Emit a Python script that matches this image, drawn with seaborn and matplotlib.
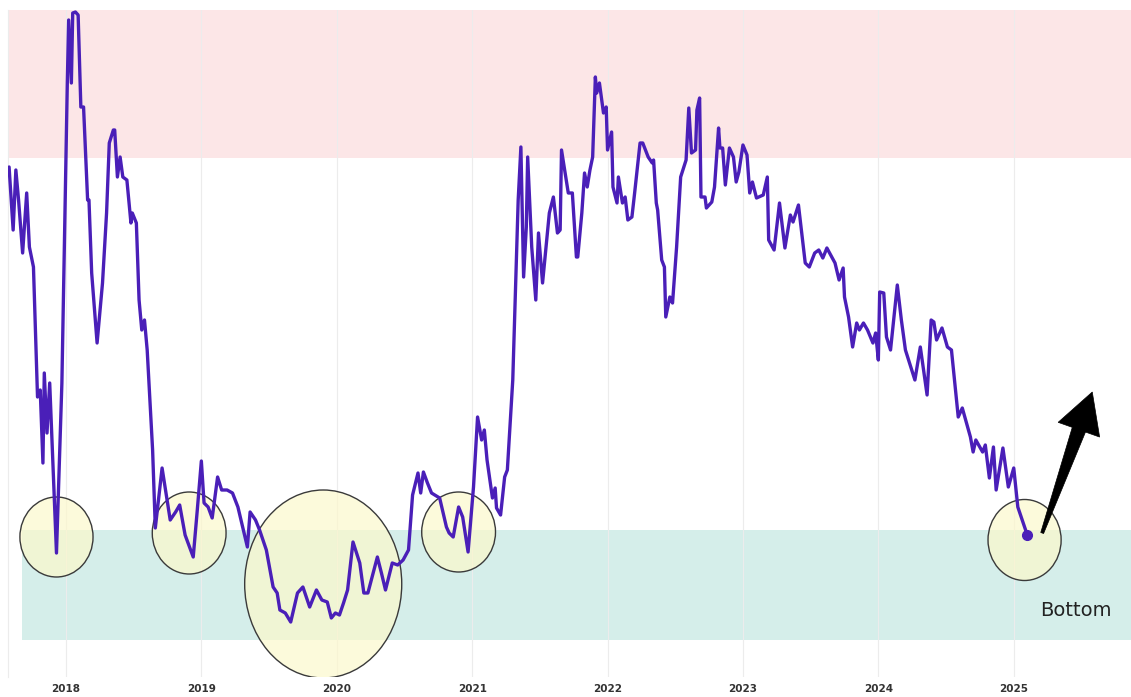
import matplotlib
matplotlib.use("Agg")
import matplotlib.pyplot as plt
from matplotlib.patches import Ellipse, Polygon
from matplotlib.transforms import IdentityTransform
import numpy as np
import seaborn as sns

# indicator readings (decimal year, value)
years = [
    2017.58, 2017.61, 2017.63, 2017.65, 2017.68, 2017.71, 2017.73, 2017.76, 2017.79, 2017.81,
    2017.83, 2017.84, 2017.86, 2017.88, 2017.93, 2017.97, 2017.99, 2018.01, 2018.02, 2018.04,
    2018.05, 2018.07, 2018.09, 2018.11, 2018.13, 2018.16, 2018.17, 2018.19, 2018.23, 2018.27,
    2018.30, 2018.32, 2018.35, 2018.36, 2018.38, 2018.40, 2018.42, 2018.45, 2018.48, 2018.49,
    2018.52, 2018.54, 2018.56, 2018.58, 2018.60, 2018.64, 2018.66, 2018.71, 2018.77, 2018.81,
    2018.84, 2018.88, 2018.94, 2018.97, 2019.00, 2019.02, 2019.05, 2019.08, 2019.12, 2019.15,
    2019.19, 2019.23, 2019.27, 2019.34, 2019.36, 2019.40, 2019.43, 2019.48, 2019.53, 2019.56,
    2019.58, 2019.62, 2019.66, 2019.71, 2019.75, 2019.80, 2019.85, 2019.89, 2019.93, 2019.96,
    2019.99, 2020.02, 2020.05, 2020.08, 2020.12, 2020.17, 2020.20, 2020.23, 2020.30, 2020.33,
    2020.36, 2020.41, 2020.45, 2020.49, 2020.53, 2020.56, 2020.60, 2020.62, 2020.64, 2020.67,
    2020.70, 2020.76, 2020.81, 2020.83, 2020.86, 2020.90, 2020.93, 2020.97, 2021.01, 2021.04,
    2021.07, 2021.09, 2021.11, 2021.15, 2021.17, 2021.18, 2021.21, 2021.24, 2021.26, 2021.30,
    2021.34, 2021.36, 2021.38, 2021.40, 2021.41, 2021.44, 2021.47, 2021.49, 2021.52, 2021.57,
    2021.60, 2021.63, 2021.65, 2021.66, 2021.71, 2021.74, 2021.77, 2021.78, 2021.81, 2021.83,
    2021.85, 2021.87, 2021.89, 2021.91, 2021.92, 2021.94, 2021.97, 2021.99, 2022.00, 2022.03,
    2022.04, 2022.07, 2022.08, 2022.11, 2022.13, 2022.15, 2022.18, 2022.20, 2022.24, 2022.26,
    2022.30, 2022.33, 2022.34, 2022.36, 2022.37, 2022.40, 2022.42, 2022.43, 2022.46, 2022.48,
    2022.51, 2022.54, 2022.58, 2022.60, 2022.62, 2022.65, 2022.66, 2022.68, 2022.69, 2022.72,
    2022.73, 2022.77, 2022.79, 2022.82, 2022.83, 2022.85, 2022.87, 2022.90, 2022.93, 2022.95,
    2022.97, 2023.00, 2023.03, 2023.05, 2023.07, 2023.10, 2023.15, 2023.18, 2023.19, 2023.23,
    2023.27, 2023.31, 2023.35, 2023.37, 2023.41, 2023.46, 2023.49, 2023.53, 2023.56, 2023.59,
    2023.62, 2023.68, 2023.71, 2023.74, 2023.75, 2023.78, 2023.81, 2023.84, 2023.86, 2023.89,
    2023.92, 2023.96, 2023.98, 2024.00, 2024.01, 2024.04, 2024.06, 2024.09, 2024.14, 2024.17,
    2024.20, 2024.27, 2024.31, 2024.36, 2024.39, 2024.41, 2024.43, 2024.47, 2024.51, 2024.54,
    2024.59, 2024.62, 2024.68, 2024.70, 2024.72, 2024.77, 2024.79, 2024.82, 2024.85, 2024.87,
    2024.92, 2024.96, 2025.00, 2025.03, 2025.10,
]
values = [
    51.0, 44.7, 50.7, 47.7, 42.4, 48.4, 43.0, 41.0, 28.0, 28.7,
    21.4, 30.4, 24.4, 29.4, 12.4, 29.4, 44.4, 59.4, 65.7, 59.4,
    66.4, 66.5, 66.2, 57.0, 57.0, 47.7, 47.7, 40.4, 33.4, 39.4,
    46.4, 53.4, 54.7, 54.7, 50.0, 52.0, 50.0, 49.7, 45.4, 46.4,
    45.4, 37.7, 34.7, 35.7, 32.7, 22.7, 14.9, 20.9, 15.7, 16.5,
    17.2, 14.2, 12.0, 16.7, 21.6, 17.4, 17.0, 15.9, 20.0, 18.7,
    18.7, 18.4, 17.0, 13.0, 16.5, 15.7, 14.7, 12.7, 9.0, 8.4,
    6.7, 6.4, 5.5, 8.4, 9.0, 7.0, 8.7, 7.7, 7.5, 5.9,
    6.4, 6.2, 7.4, 8.7, 13.5, 11.4, 8.4, 8.4, 12.0, 10.4,
    8.7, 11.4, 11.2, 11.7, 12.7, 18.2, 20.4, 18.4, 20.5, 19.4,
    18.4, 17.9, 15.0, 14.4, 14.0, 17.0, 16.0, 12.5, 19.0, 26.0,
    23.7, 24.7, 21.7, 17.9, 18.9, 16.9, 16.2, 20.0, 20.7, 29.7,
    47.7, 53.0, 40.0, 45.0, 52.0, 43.0, 37.7, 44.4, 39.4, 46.4,
    48.0, 44.4, 44.7, 52.7, 48.4, 48.4, 42.0, 42.0, 46.4, 50.4,
    49.0, 50.7, 52.0, 60.0, 58.4, 59.4, 56.4, 57.0, 52.7, 54.5,
    49.0, 47.4, 50.0, 47.4, 48.0, 45.7, 46.0, 48.4, 53.4, 53.4,
    52.0, 51.4, 51.7, 47.4, 46.7, 41.7, 41.0, 36.0, 38.0, 37.4,
    43.0, 50.0, 51.7, 56.9, 52.4, 52.7, 56.7, 57.9, 48.0, 48.0,
    46.9, 47.5, 49.0, 54.9, 52.9, 52.9, 49.2, 52.9, 52.0, 49.5,
    50.5, 53.2, 52.2, 48.4, 49.5, 47.9, 48.2, 50.0, 43.7, 42.7,
    47.4, 42.9, 46.2, 45.5, 47.2, 41.4, 41.0, 42.4, 42.7, 41.9,
    42.9, 41.4, 39.7, 40.9, 38.0, 36.0, 33.0, 35.4, 34.7, 35.4,
    34.7, 33.4, 34.4, 31.7, 38.5, 38.4, 34.0, 32.7, 39.2, 35.7,
    32.7, 29.7, 33.0, 28.2, 35.7, 35.5, 33.7, 34.9, 33.0, 32.7,
    26.0, 26.9, 24.0, 22.5, 23.7, 22.5, 23.2, 19.9, 23.0, 18.7,
    22.9, 19.0, 20.9, 17.0, 14.2,
]

tick_years = [2018, 2019, 2020, 2021, 2022, 2023, 2024, 2025]
tick_labels = [str(y) for y in tick_years]

# zones and highlighted bottoms
top_zone = (51.9, 66.7)
bottom_zone = (3.7, 14.7)
bottom_zone_start = 2017.675
circle_x = [2017.93, 2018.91, 2019.90, 2020.90, 2025.08]
circle_y = [14.0, 14.4, 9.3, 14.5, 13.7]
circle_w = [0.54, 0.545, 1.16, 0.545, 0.54]
circle_h = [8.0, 8.2, 18.8, 8.0, 8.1]

# arrow pointing up from the latest bottom
arrow_tail = (2025.21, 14.4)
arrow_tip = (2025.58, 28.5)

x_range = (2017.572, 2025.866)
y_range = (0, 66.7)

sns.set_theme(style="white")
plt.rcParams['font.family'] = ['DejaVu Sans']

fig = plt.figure(figsize=(11.31, 6.97), dpi=100)
ax = fig.add_axes([8 / 1131, 20 / 697, 1123 / 1131, 667 / 697])
ax.set_xlim(*x_range)
ax.set_ylim(*y_range)

# background zones
ax.axhspan(*top_zone, color='#fce6e7', lw=0, zorder=0)
xmin_frac = (bottom_zone_start - x_range[0]) / (x_range[1] - x_range[0])
ax.axhspan(*bottom_zone, xmin=xmin_frac, color='#d5eeea', lw=0, zorder=0)

# faint year grid
for yr in tick_years:
    ax.axvline(yr, color='#ececec', lw=0.8, zorder=0.5)

# circles around bottoms
for cx, cy, w, h in zip(circle_x, circle_y, circle_w, circle_h):
    ax.add_patch(Ellipse((cx, cy), w, h, facecolor='#fcf8cc', alpha=0.7,
                         edgecolor='none', zorder=1))
    ax.add_patch(Ellipse((cx, cy), w, h, facecolor='none', edgecolor='#3a3a3a',
                         lw=1.0, zorder=1.1))

sns.lineplot(x=years, y=values, estimator=None, sort=False, color='#4a1fb8',
             lw=2.4, ax=ax, zorder=3)
ax.plot(years[-1], values[-1], 'o', color='#4a1fb8', ms=7, zorder=4)

# tapered arrow, built in pixel space so the head keeps its shape
t = ax.transData.transform(arrow_tail)
p = ax.transData.transform(arrow_tip)
u = (p - t) / np.hypot(*(p - t))
n = np.array([u[1], -u[0]])
base = p - 40 * u
pts = [t + 1.5 * n, base + 7 * n, base + 22 * n, p,
       base - 22 * n, base - 7 * n, t - 1.5 * n]
fig.patches.append(Polygon(pts, closed=True, facecolor='black', edgecolor='black',
                           lw=0.5, transform=IdentityTransform(), figure=fig, zorder=5))

ax.text(2025.46, 6.6, 'Bottom', fontsize=14, color='#222222',
        ha='center', va='center', zorder=5)

ax.set_xticks(tick_years, tick_labels)
ax.set_yticks([])
ax.tick_params(axis='x', length=0, pad=5, labelsize=7.5, labelcolor='#333333')
for lab in ax.get_xticklabels():
    lab.set_fontweight('bold')
ax.set_xlabel('')
ax.set_ylabel('')
for side in ['top', 'right', 'bottom']:
    ax.spines[side].set_visible(False)
ax.spines['left'].set_color('#ececec')
ax.spines['left'].set_linewidth(0.8)

fig.savefig('out.png', dpi=100)
